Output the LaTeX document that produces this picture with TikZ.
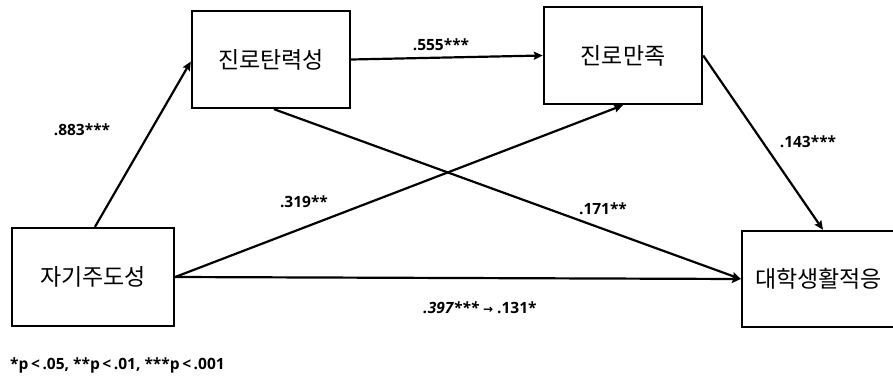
\documentclass[tikz,border=0pt]{standalone}
\usepackage{fontspec}
\setmainfont{Open Sans}
\newfontfamily\kr{Noto Sans CJK KR}
\newfontfamily\symfont{DejaVu Sans}
\usetikzlibrary{arrows.meta}
\newcommand{\lt}{\kern2.6pt<\kern2.6pt}

\begin{document}
\begin{tikzpicture}[x=1pt,y=-1pt,
  varbox/.style={draw, line width=2.4pt, minimum width=158pt, minimum height=97pt,
    inner sep=0pt, font=\kr\fontsize{23}{26}\selectfont},
  path/.style={line width=2.2pt, -{Stealth[length=9pt,width=8pt,inset=1.5pt]}},
  coef/.style={font=\bfseries\fontsize{15.5}{18}\selectfont, inner sep=0pt}]
  \useasboundingbox (0,0) rectangle (893,378);
  \clip (0,0) rectangle (893,378);

  % variables
  \node[varbox] (res) at (271,59.5) {진로탄력성};
  \node[varbox] (sat) at (623,55.5) {진로만족};
  \node[varbox, minimum width=162pt, minimum height=98pt] (self) at (93,277) {자기주도성};
  \node[varbox, minimum height=96pt, text width=140pt, align=left, inner xsep=13pt] (adj) at (825,279) {대학생활적응};

  % paths
  \draw[path] ([xshift=2pt]self.north) -- ([yshift=-2pt]res.west);
  \draw[path] (res.east) -- (sat.west);
  \draw[path] (self.east) -- (sat.south);
  \draw[path] ([xshift=3pt]res.south) -- (adj.west);
  \draw[path] (self.east) -- (adj.west);
  \draw[path] (sat.east) -- ([xshift=-2pt]adj.north);

  % coefficients
  \node[coef] (c1) at (82,130) {.883***};
  \node[coef] (c2) at (441,45) {.555***};
  \node[coef] (c3) at (304,202) {.319**};
  \node[coef] (c4) at (603,209) {.171**};
  \node[coef] (c5) at (808,142) {.143***};
  \node[coef] (c6) at (480,308) {\textit{.397***} {\symfont\fontsize{12}{14}\selectfont →} .131*};

  % note
  \node[coef, anchor=west] (note) at (10,365) {*p\lt.05, **p\lt.01, ***p\lt.001};
\end{tikzpicture}
\end{document}
